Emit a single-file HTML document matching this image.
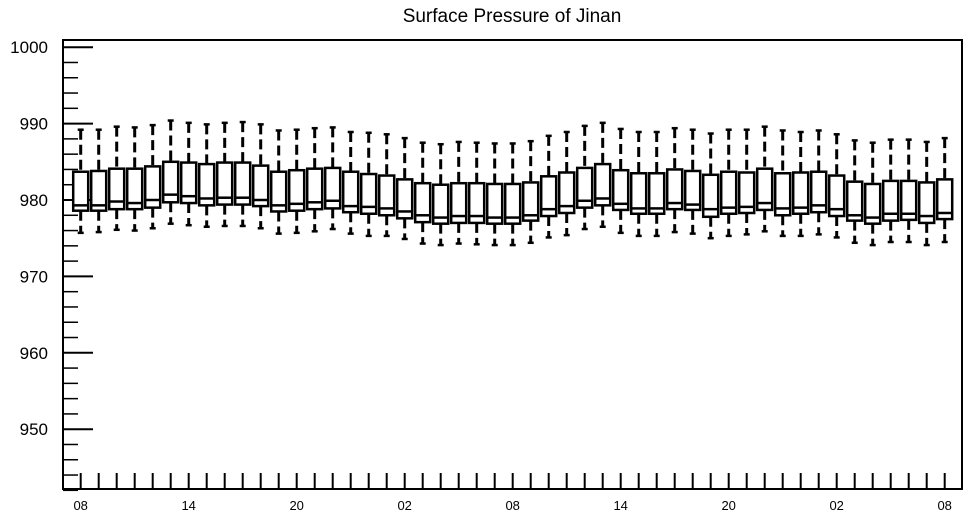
<!DOCTYPE html>
<html><head><meta charset="utf-8"><style>
body{margin:0;background:#fff;}
svg{display:block;font-family:"Liberation Sans",Arial,sans-serif;}
</style></head><body>
<svg id="chart" width="968" height="518" viewBox="0 0 968 518" xmlns="http://www.w3.org/2000/svg">
<text x="512" y="22" font-size="19" text-anchor="middle">Surface Pressure of Jinan</text>
<g id="axes"></g>
<g id="boxes"></g>
<rect x="63" y="40" width="899" height="449" fill="none" stroke="#000" stroke-width="2"/>
</svg>
<script>
const whiskerMax=[989.2,989.2,989.6,989.5,989.8,990.4,990.1,989.9,990.1,990.2,989.9,989.1,989.2,989.4,989.5,988.9,988.8,988.6,988.1,987.5,987.3,987.6,987.5,987.4,987.4,987.7,988.4,988.9,989.7,990.1,989.3,988.9,988.9,989.4,989.2,988.7,989.2,989.2,989.6,989.1,988.9,989.1,988.6,987.8,987.5,987.9,987.9,987.6,988.1];
const q3=[983.7,983.8,984.1,984.1,984.4,985.0,984.9,984.7,984.9,984.9,984.5,983.7,983.9,984.1,984.2,983.7,983.4,983.2,982.7,982.2,982.0,982.2,982.2,982.1,982.1,982.3,983.1,983.6,984.2,984.7,983.9,983.5,983.5,984.0,983.8,983.3,983.7,983.6,984.1,983.5,983.6,983.7,983.2,982.4,982.1,982.5,982.5,982.3,982.7];
const median=[979.3,979.3,979.8,979.6,980.0,980.7,980.5,980.2,980.3,980.3,980.0,979.3,979.5,979.7,979.9,979.2,979.1,978.9,978.5,978.0,977.7,977.9,977.9,977.7,977.7,978.0,978.8,979.2,979.9,980.2,979.5,978.9,978.9,979.6,979.4,978.8,979.0,979.1,979.6,978.9,979.0,979.3,978.8,978.0,977.7,978.2,978.2,977.9,978.3];
const q1=[978.6,978.6,978.8,978.8,979.0,979.7,979.6,979.3,979.4,979.4,979.2,978.5,978.6,978.8,978.9,978.4,978.2,978.0,977.6,977.1,976.9,977.0,977.0,976.9,976.9,977.3,977.9,978.3,979.0,979.3,978.7,978.2,978.2,978.8,978.7,977.8,978.2,978.3,978.7,978.0,978.2,978.4,977.9,977.3,976.9,977.3,977.4,977.0,977.5];
const whiskerMin=[975.7,975.8,976.1,976.0,976.3,976.9,976.7,976.5,976.6,976.6,976.3,975.6,975.7,975.9,976.2,975.6,975.3,975.3,974.9,974.3,974.1,974.3,974.2,974.1,974.1,974.4,975.1,975.4,976.2,976.5,975.7,975.3,975.3,975.8,975.6,975.0,975.3,975.5,975.9,975.3,975.3,975.5,975.1,974.4,974.1,974.5,974.5,974.1,974.5];
const yTickLabels=[950,960,970,980,990,1000];
const xTickLabels=["08","14","20","02","08","14","20","02","08"];

const NS="http://www.w3.org/2000/svg";
function yScale(v){return 200-(v-980)*7.64;}
function xScale(i){return 80.7+i*18;}
function mk(tag,attrs,parent){const e=document.createElementNS(NS,tag);for(const k in attrs)e.setAttribute(k,attrs[k]);parent.appendChild(e);return e;}
const axes=document.getElementById('axes');
const boxes=document.getElementById('boxes');
// y ticks
for(let v=942;v<=1000;v+=2){
  const y=yScale(v);const major=v%10===0;
  const t=mk('line',{x1:63,x2:major?93:78,y1:y,y2:y,stroke:'#000','stroke-width':major?2:1.5},axes);
  
  
}
yTickLabels.forEach(v=>{
  const t=mk('text',{x:48,y:yScale(v)+6,'font-size':17,'text-anchor':'end'},axes);
  t.textContent=v;
  
  
});
for(let i=0;i<whiskerMax.length;i++){
  const x=xScale(i);
  const t=mk('line',{x1:x,x2:x,y1:489,y2:473,stroke:'#000','stroke-width':2},axes);
  
  
}
xTickLabels.forEach((s,k)=>{
  const t=mk('text',{x:xScale(k*6),y:510,'font-size':13,'text-anchor':'middle'},axes);
  t.textContent=s;
  
  
});
for(let i=0;i<q3.length;i++){
  const x=xScale(i);const g=mk('g',{},boxes);
  
  
  const yT=yScale(q3[i]),yB=yScale(q1[i]),yM=yScale(median[i]),yH=yScale(whiskerMax[i]),yL=yScale(whiskerMin[i]);
  mk('line',{x1:x,x2:x,y1:yH,y2:yT,stroke:'#000','stroke-width':3,'stroke-dasharray':'10,5'},g);
  mk('line',{x1:x-3,x2:x+3,y1:yH,y2:yH,stroke:'#000','stroke-width':2.5},g);
  mk('line',{x1:x,x2:x,y1:yB,y2:yL,stroke:'#000','stroke-width':3,'stroke-dasharray':'10,5'},g);
  mk('line',{x1:x-3,x2:x+3,y1:yL,y2:yL,stroke:'#000','stroke-width':2.5},g);
  mk('rect',{x:x-7.5,y:yT,width:15,height:yB-yT,fill:'#fff',stroke:'#000','stroke-width':2.5},g);
  mk('line',{x1:x-7.5,x2:x+7.5,y1:yM,y2:yM,stroke:'#000','stroke-width':2.5},g);
}
</script>
</body></html>
